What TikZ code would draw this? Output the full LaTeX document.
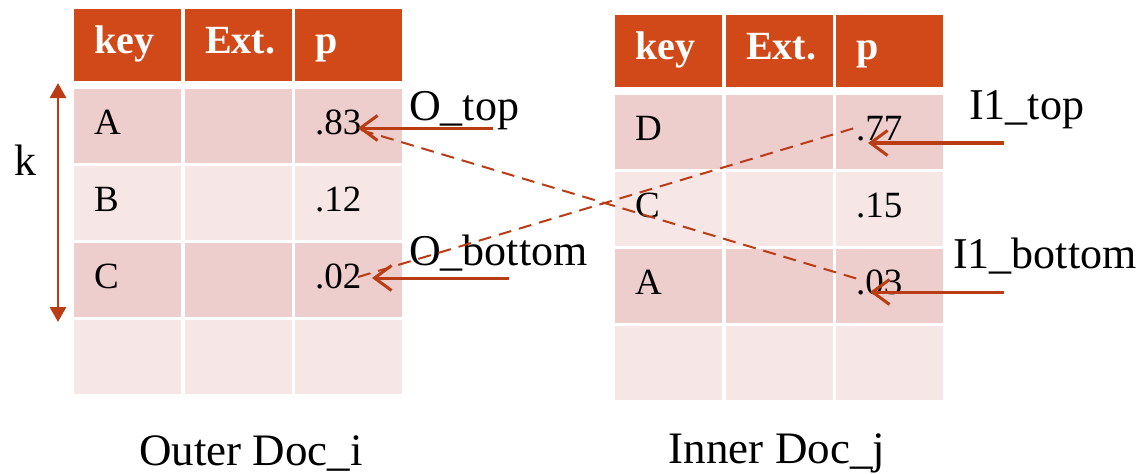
\documentclass[tikz,border=0pt]{standalone}
\usepackage{fontspec}
\setmainfont{Liberation Serif}
\usetikzlibrary{arrows.meta}

\definecolor{hdr}{RGB}{209,73,25}
\definecolor{rowdark}{RGB}{238,206,204}
\definecolor{rowlight}{RGB}{246,231,230}
\definecolor{arr}{RGB}{185,60,20}

\tikzset{
  cell/.style={anchor=north west, minimum width=107pt, minimum height=74pt,
    inner xsep=20pt, inner ysep=0pt, text width=67pt, align=left,
    text height=26pt, text depth=9pt, font=\fontsize{37}{40}\selectfont},
  hcell/.style={cell, minimum height=72pt, fill=hdr, text=white,
    text height=26pt, text depth=10pt, font=\fontsize{40}{44}\selectfont\bfseries},
  label/.style={anchor=base west, inner sep=0pt, font=\fontsize{44}{48}\selectfont},
  caption/.style={anchor=base, inner sep=0pt, font=\fontsize{45}{48}\selectfont},
  ptr/.style={draw=arr, line width=3pt,
    -{Straight Barb[length=17pt,width=25pt,line width=3pt]}},
  dashline/.style={draw=arr, line width=2pt, dash pattern=on 13pt off 8pt},
  karrow/.style={draw=arr, line width=2.8pt,
    {Triangle[length=15pt,width=16pt]}-{Triangle[length=15pt,width=16pt]}},
}

% one document table: name prefix, top-left corner, body rows key/p/fill
\newcommand\doctable[4]{%
  \begin{scope}[shift={(#2,#3)}]
    \node[hcell] (#1-h1) at (0,0)   {key};
    \node[hcell] (#1-h2) at (111,0) {Ext.};
    \node[hcell] (#1-h3) at (221,0) {p};
    \foreach \k/\p/\c [count=\i] in {#4} {
      \node[cell, fill=\c] (#1-\i-1) at (0,   {80+(\i-1)*77}) {\k};
      \node[cell, fill=\c] (#1-\i-2) at (111, {80+(\i-1)*77}) {};
      \node[cell, fill=\c] (#1-\i-3) at (221, {80+(\i-1)*77}) {\p};
    }
  \end{scope}}

\begin{document}
\begin{tikzpicture}[x=1pt, y=-1pt]
  \useasboundingbox (0,0) rectangle (1141,474);

  \doctable{outer}{74}{9}{A/.83/rowdark, B/.12/rowlight, C/.02/rowdark, {}/{}/rowlight}
  \doctable{inner}{615}{15}{D/.77/rowdark, C/.15/rowlight, A/.03/rowdark, {}/{}/rowlight}

  % captions
  \node[caption] (capO) at (251,465) {Outer Doc\_i};
  \node[caption] (capI) at (777,463) {Inner Doc\_j};

  % k range marker
  \node[label] (klab) at (14,175) {k};
  \coordinate (kTop) at (58,83);
  \coordinate (kBot) at (58,322);
  \draw[karrow] (kTop) -- (kBot);

  % cursor labels
  \node[label] (otop) at (409,120) {O\_top};
  \node[label] (obot) at (409,265) {O\_bottom};
  \node[label] (itop) at (969,119) {I1\_top};
  \node[label] (ibot) at (953,268) {I1\_bottom};

  % cursor pointers
  \coordinate (otopS) at (493,128);  \coordinate (otopT) at (358,128);
  \coordinate (obotS) at (509,278);  \coordinate (obotT) at (372,278);
  \coordinate (itopS) at (1004,143); \coordinate (itopT) at (868,143);
  \coordinate (ibotS) at (1004,292); \coordinate (ibotT) at (870,292);
  \draw[ptr] (otopS) -- (otopT);
  \draw[ptr] (obotS) -- (obotT);
  \draw[ptr, line width=3.8pt] (itopS) -- (itopT);
  \draw[ptr] (ibotS) -- (ibotT);

  % crossing comparisons
  \coordinate (d83) at (361,130); \coordinate (d03) at (858,279);
  \coordinate (d02) at (358,277); \coordinate (d77) at (858,127);
  \draw[dashline] (d83) -- (d03);
  \draw[dashline] (d02) -- (d77);
\end{tikzpicture}
\end{document}
